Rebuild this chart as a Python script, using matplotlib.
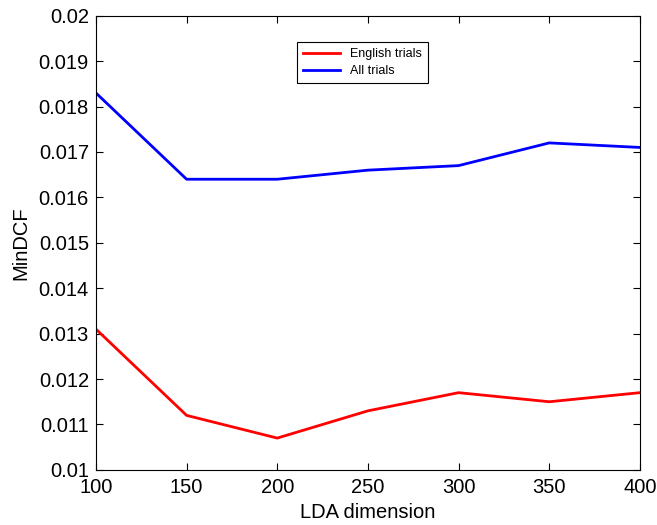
import matplotlib
matplotlib.use("Agg")
import matplotlib.pyplot as plt

lda_dim = [100, 150, 200, 250, 300, 350, 400]
english_trials = [0.0131, 0.0112, 0.0107, 0.0113, 0.0117, 0.0115, 0.0117]
all_trials = [0.0183, 0.0164, 0.0164, 0.0166, 0.0167, 0.0172, 0.0171]
y_ticks = [0.01, 0.011, 0.012, 0.013, 0.014, 0.015, 0.016, 0.017, 0.018, 0.019, 0.02]
y_labels = ["0.01", "0.011", "0.012", "0.013", "0.014", "0.015", "0.016", "0.017", "0.018", "0.019", "0.02"]

plt.rcParams['font.family'] = ['Liberation Sans', 'DejaVu Sans']

fig = plt.figure(figsize=(6.57, 5.25), dpi=100)
ax = fig.add_axes([0.146, 0.105, 0.828, 0.865])
ax.plot(lda_dim, english_trials, color='#ff0000', lw=2, label='English trials')
ax.plot(lda_dim, all_trials, color='#0000ff', lw=2, label='All trials')
ax.set_xlim(100, 400)
ax.set_ylim(0.01, 0.02)
ax.set_xticks(lda_dim)
ax.set_yticks(y_ticks)
ax.set_yticklabels(y_labels)
ax.tick_params(direction='in', labelsize=14.5, length=5, top=True, right=True, width=0.8)
ax.tick_params(axis='x', pad=6)
ax.tick_params(axis='y', pad=5)
for s in ax.spines.values():
    s.set_linewidth(0.8)
ax.set_xlabel('LDA dimension', fontsize=14.5, labelpad=4)
ax.set_ylabel('MinDCF', fontsize=14.5, labelpad=6)
leg = ax.legend(loc='upper center', bbox_to_anchor=(0.49, 0.956), fontsize=9,
                fancybox=False, edgecolor='black', framealpha=1, handlelength=2.9,
                borderpad=0.5, labelspacing=0.4)
leg.get_frame().set_linewidth(0.8)
fig.savefig('out.png', dpi=100)
